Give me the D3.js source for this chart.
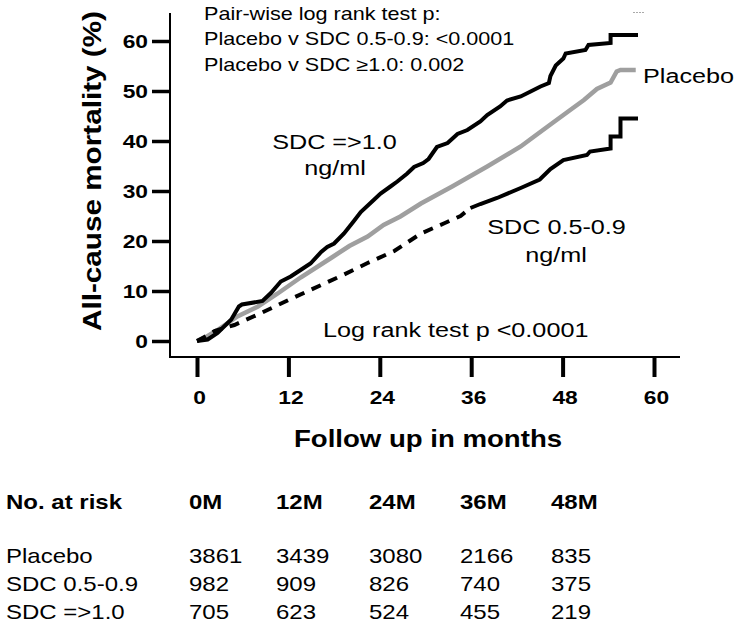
<!DOCTYPE html>
<html><head><meta charset="utf-8">
<script src="https://cdn.jsdelivr.net/npm/d3@7"></script>
<style>body{margin:0;background:#fff}svg{display:block}text{font-family:"Liberation Sans",Arial,sans-serif}</style>
</head><body><svg id="c" width="738" height="625"></svg>
<script>
// ---------- data ----------
const monthTicks = [0, 12, 24, 36, 48, 60];
const pctTicks = [0, 10, 20, 30, 40, 50, 60];
const seriesNames = ["Placebo", "SDC 0.5-0.9", "SDC =>1.0"];
// [month, cumulative mortality %]
const highSeries = [[0,0],[1.4,0.3],[2.7,1.6],[4.5,4.3],[5.5,6.9],[5.9,7.3],[8.6,8.0],[9.7,9.6],[11.0,11.9],[12.3,12.9],[13.6,14.2],[14.9,15.5],[16.3,17.8],[17.1,18.8],[18.0,19.5],[19.3,21.5],[20.6,24.0],[21.5,25.8],[23.2,28.2],[24.1,29.5],[25.4,30.9],[26.3,31.9],[27.6,33.5],[28.5,34.8],[29.7,35.6],[30.4,36.4],[31.5,38.8],[32.9,39.6],[34.2,41.4],[35.5,42.2],[37.2,43.9],[38.1,45.2],[39.8,46.9],[40.7,48.1],[42.5,48.9],[43.8,49.9],[45.1,50.9],[46.2,51.6],[46.4,53.0],[47.1,55.1],[48.1,56.5],[48.4,57.5],[51.0,58.2],[51.4,59.2],[54.3,59.6],[54.3,61.2],[57.9,61.2]];
const placeboSeries = [[0,0],[1.2,0.8],[2.7,2.2],[5.3,4.9],[8.0,6.9],[10.6,9.5],[13.6,12.7],[17.8,16.8],[20.0,19.0],[22.4,20.9],[24.5,23.2],[26.7,24.9],[29.4,27.5],[33.5,30.9],[38.1,34.9],[42.5,38.9],[44.0,40.6],[46.4,43.3],[49.0,46.2],[50.8,48.2],[52.5,50.4],[54.3,51.7],[55.1,53.9],[55.6,54.2],[57.6,54.2]];
const lowSeries = [[0,0],[1.2,1.0],[2.3,2.0],[4.9,3.2],[8.0,5.3],[12.3,8.4],[16.3,11.2],[18.9,13.0],[22.4,15.6],[25.9,18.0],[29.4,21.5],[32.4,23.5],[34.6,25.0],[35.9,26.6],[37.2,27.4],[39.4,28.6],[42.5,30.6],[45.0,32.3],[46.4,34.4],[48.1,36.2],[51.2,37.2],[51.6,37.9],[54.3,38.5],[54.3,40.9],[55.6,40.9],[55.6,44.5],[57.9,44.5]];
const lowDashedUntil = 35.9;
const riskHeaders = ["0M", "12M", "24M", "36M", "48M"];
const riskPlacebo = [3861, 3439, 3080, 2166, 835];
const riskLow = [982, 909, 826, 740, 375];
const riskHigh = [705, 623, 524, 455, 219];
const pairwiseLines = ["Pair-wise log rank test p:", "Placebo v SDC 0.5-0.9: <0.0001", "Placebo v SDC \u22651.0: 0.002"];
const logRankText = "Log rank test p <0.0001";
const xTitle = "Follow up in months";
const yTitle = "All-cause mortality (%)";

// ---------- layout ----------
const SX = 1.2; // horizontal stretch of the original's lettering
const svg = d3.select("#c");
const x = d3.scaleLinear().domain([0, 60]).range([197, 654]);
const y = d3.scaleLinear().domain([0, 60]).range([341, 41]);

function txt(s, tx, ty, size, opts = {}) {
  return svg.append("text")
    .attr("transform", `translate(${tx},${ty}) scale(${SX},1)`)
    .attr("font-size", size)
    .attr("text-anchor", opts.anchor || "start")
    .attr("font-weight", opts.bold ? "bold" : "normal")
    .attr("fill", "#000")
    .text(s);
}

// axes frame
svg.append("path").attr("d", "M170,13V357").attr("stroke", "#000").attr("stroke-width", 2).attr("fill", "none");
svg.append("path").attr("d", "M169,357H680").attr("stroke", "#000").attr("stroke-width", 2).attr("fill", "none");

const gy = svg.append("g").attr("transform", "translate(170,0)")
  .call(d3.axisLeft(y).tickValues(pctTicks).tickSize(18).tickSizeOuter(0));
gy.select(".domain").remove();
gy.attr("font-family", null).attr("font-size", 19);
gy.selectAll(".tick line").attr("stroke", "#000").attr("stroke-width", 3.5);
gy.selectAll(".tick text").attr("x", -22 / SX).attr("dy", "0.36em")
  .attr("transform", `scale(${SX},1)`).attr("font-weight", "bold").attr("fill", "#000");

const gx = svg.append("g").attr("transform", "translate(0,357)")
  .call(d3.axisBottom(x).tickValues(monthTicks).tickSize(20).tickSizeOuter(0));
gx.select(".domain").remove();
gx.attr("font-family", null).attr("font-size", 19);
gx.selectAll(".tick line").attr("stroke", "#000").attr("stroke-width", 4);
gx.selectAll(".tick text").attr("y", 47).attr("dy", null).attr("x", 2 / SX)
  .attr("transform", `scale(${SX},1)`).attr("font-weight", "bold").attr("fill", "#000");

// curves
const line = d3.line().x(d => x(d[0])).y(d => y(d[1]));
svg.append("path").datum(placeboSeries).attr("d", line)
  .attr("fill", "none").attr("stroke", "#9f9f9f").attr("stroke-width", 4.5);
svg.append("path").datum(lowSeries.filter(d => d[0] <= lowDashedUntil)).attr("d", line)
  .attr("fill", "none").attr("stroke", "#000").attr("stroke-width", 4).attr("stroke-dasharray", "10,8");
svg.append("path").datum(lowSeries.filter(d => d[0] >= lowDashedUntil)).attr("d", line)
  .attr("fill", "none").attr("stroke", "#000").attr("stroke-width", 4);
svg.append("path").datum(highSeries).attr("d", line)
  .attr("fill", "none").attr("stroke", "#000").attr("stroke-width", 4);

// tiny grey mark top-right
svg.append("path").attr("d", "M633,12.5H644").attr("stroke", "#aaa").attr("stroke-width", 1.2).attr("stroke-dasharray", "2,1");

// annotations
pairwiseLines.forEach((s, i) => txt(s, 204, 19.5 + i * 25.5, 18));
txt("SDC =>1.0", 334.5, 148.5, 21, {anchor: "middle"});
txt("ng/ml", 335, 175, 21, {anchor: "middle"});
txt(seriesNames[1], 556.5, 233.5, 21, {anchor: "middle"});
txt("ng/ml", 556, 261.5, 21, {anchor: "middle"});
txt(seriesNames[0], 643, 83, 21);
txt(logRankText, 323, 336.5, 21);

// axis titles
txt(xTitle, 428, 446.5, 23, {anchor: "middle", bold: true});
svg.append("text").attr("transform", "translate(101,171) rotate(-90)")
  .attr("text-anchor", "middle").attr("font-size", 26).attr("font-weight", "bold")
  .attr("textLength", 320).attr("lengthAdjust", "spacingAndGlyphs").text(yTitle);

// risk table
const colX = [189, 276, 369, 460, 551];
txt("No. at risk", 6, 509, 20, {bold: true});
riskHeaders.forEach((h, i) => txt(h, colX[i], 509, 20, {bold: true}));
const rows = [[seriesNames[0], riskPlacebo], [seriesNames[1], riskLow], [seriesNames[2], riskHigh]];
rows.forEach((r, j) => {
  const by = 562.5 + j * 28;
  txt(r[0], 6, by, 20);
  r[1].forEach((v, i) => txt(String(v), colX[i], by, 20));
});
</script></body></html>
